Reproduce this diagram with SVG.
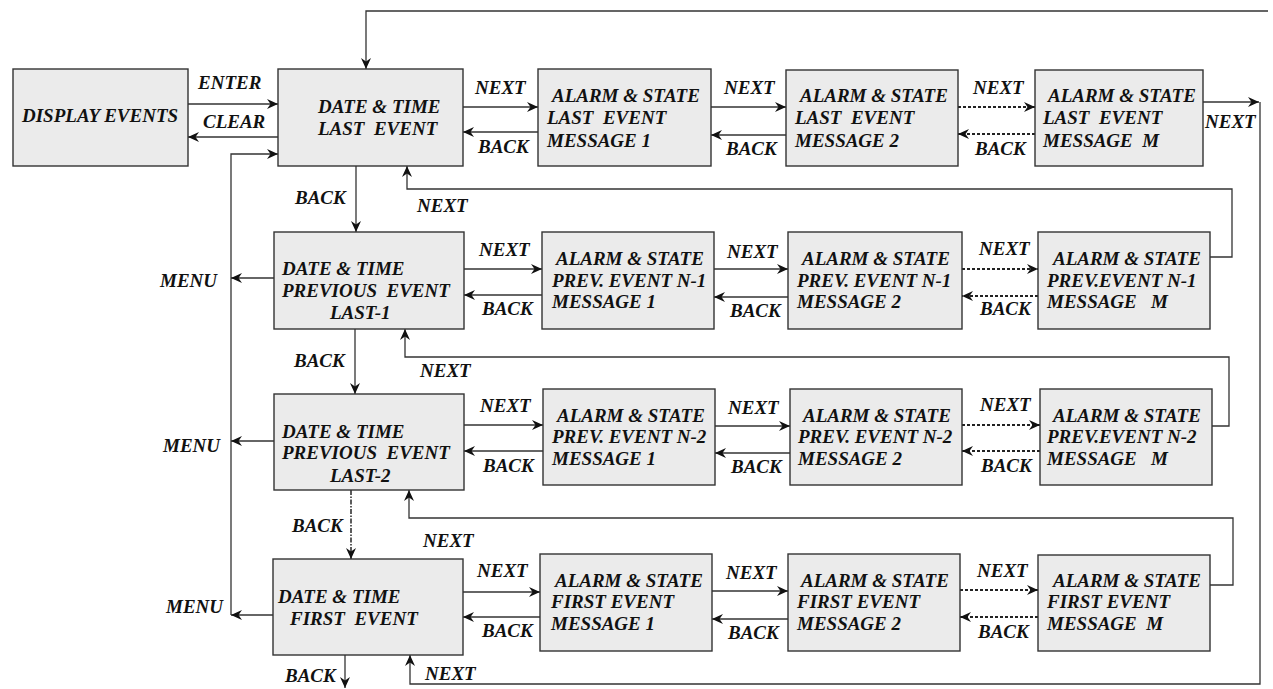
<svg xmlns="http://www.w3.org/2000/svg" width="1273" height="689" viewBox="0 0 1273 689">
<style>
.box{fill:#ebebeb;stroke:#333;stroke-width:1.4}
.t{font-family:"Liberation Serif","Times New Roman",serif;font-weight:bold;font-style:italic;font-size:19px;fill:#111;white-space:pre}
.c{fill:none;stroke:#333;stroke-width:1.3}
.d{fill:none;stroke:#222;stroke-width:2;stroke-dasharray:3 2}
.dd{fill:none;stroke:#333;stroke-width:1.6;stroke-dasharray:5 1.5 1.5 1.5}
</style>
<defs>
<marker id="a" markerUnits="userSpaceOnUse" markerWidth="12" markerHeight="12" viewBox="0 0 12 12" refX="11" refY="6" orient="auto">
<path d="M0,1 L11,6 L0,11 L3.5,6 z" fill="#111"/>
</marker>
</defs>
<rect width="1273" height="689" fill="#fff"/>

<g id="connectors">
<path class="c" d="M1268,11 L366,11 L366,69" marker-end="url(#a)"/>
<path class="c" d="M188,104 L278,104" marker-end="url(#a)"/>
<path class="c" d="M278,137 L188,137" marker-end="url(#a)"/>
<path class="c" d="M231,615 L231,154 L278,154" marker-end="url(#a)"/>
<path class="c" d="M274,278 L231,278" marker-end="url(#a)"/>
<path class="c" d="M274,441 L231,441" marker-end="url(#a)"/>
<path class="c" d="M273,615 L231,615" marker-end="url(#a)"/>
<!-- row 1 -->
<path class="c" d="M463,107 L538,107" marker-end="url(#a)"/>
<path class="c" d="M538,132 L463,132" marker-end="url(#a)"/>
<path class="c" d="M711,107 L786,107" marker-end="url(#a)"/>
<path class="c" d="M786,135 L711,135" marker-end="url(#a)"/>
<path class="d" d="M958,107 L1035,107" marker-end="url(#a)"/>
<path class="d" d="M1035,134 L958,134" marker-end="url(#a)"/>
<path class="c" d="M1203,102 L1259,102" marker-end="url(#a)"/>
<path class="c" d="M1260,102 L1260,684 L410,684 L410,655" marker-end="url(#a)"/>
<path class="c" d="M356,166 L356,232" marker-end="url(#a)"/>
<path class="c" d="M1210,257 L1232,257 L1232,189 L407,189 L407,166" marker-end="url(#a)"/>
<!-- row 2 -->
<path class="c" d="M464,269 L542,269" marker-end="url(#a)"/>
<path class="c" d="M542,295 L464,295" marker-end="url(#a)"/>
<path class="c" d="M714,269 L788,269" marker-end="url(#a)"/>
<path class="c" d="M788,297 L714,297" marker-end="url(#a)"/>
<path class="d" d="M962,269 L1038,269" marker-end="url(#a)"/>
<path class="d" d="M1038,296 L962,296" marker-end="url(#a)"/>
<path class="c" d="M355,329 L355,394" marker-end="url(#a)"/>
<path class="c" d="M1212,426 L1229,426 L1229,357 L405,357 L405,329" marker-end="url(#a)"/>
<!-- row 3 -->
<path class="c" d="M464,425 L543,425" marker-end="url(#a)"/>
<path class="c" d="M543,451 L464,451" marker-end="url(#a)"/>
<path class="c" d="M715,426 L790,426" marker-end="url(#a)"/>
<path class="c" d="M790,453 L715,453" marker-end="url(#a)"/>
<path class="d" d="M962,425 L1040,425" marker-end="url(#a)"/>
<path class="d" d="M1040,451 L962,451" marker-end="url(#a)"/>
<path class="dd" d="M351,490 L351,559" marker-end="url(#a)"/>
<path class="c" d="M1210,585 L1233,585 L1233,518 L409,518 L409,490" marker-end="url(#a)"/>
<!-- row 4 -->
<path class="c" d="M463,592 L540,592" marker-end="url(#a)"/>
<path class="c" d="M540,617 L463,617" marker-end="url(#a)"/>
<path class="c" d="M712,591 L788,591" marker-end="url(#a)"/>
<path class="c" d="M788,619 L712,619" marker-end="url(#a)"/>
<path class="d" d="M960,590 L1038,590" marker-end="url(#a)"/>
<path class="d" d="M1038,617 L960,617" marker-end="url(#a)"/>
<path class="c" d="M345,655 L345,688" marker-end="url(#a)"/>
</g>

<g id="labels" class="t">
<text class="t" x="198" y="89">ENTER</text>
<text class="t" x="203" y="128">CLEAR</text>
<text class="t" x="475" y="94">NEXT</text>
<text class="t" x="478" y="153">BACK</text>
<text class="t" x="724" y="94">NEXT</text>
<text class="t" x="726" y="155">BACK</text>
<text class="t" x="973" y="94">NEXT</text>
<text class="t" x="975" y="155">BACK</text>
<text class="t" x="1205" y="128">NEXT</text>
<text class="t" x="295" y="204">BACK</text>
<text class="t" x="417" y="212">NEXT</text>
<text class="t" x="160" y="287">MENU</text>
<text class="t" x="479" y="256">NEXT</text>
<text class="t" x="482" y="315">BACK</text>
<text class="t" x="727" y="258">NEXT</text>
<text class="t" x="730" y="317">BACK</text>
<text class="t" x="979" y="255">NEXT</text>
<text class="t" x="980" y="315">BACK</text>
<text class="t" x="294" y="367">BACK</text>
<text class="t" x="420" y="377">NEXT</text>
<text class="t" x="163" y="452">MENU</text>
<text class="t" x="480" y="412">NEXT</text>
<text class="t" x="483" y="472">BACK</text>
<text class="t" x="728" y="414">NEXT</text>
<text class="t" x="731" y="473">BACK</text>
<text class="t" x="980" y="411">NEXT</text>
<text class="t" x="981" y="472">BACK</text>
<text class="t" x="292" y="532">BACK</text>
<text class="t" x="423" y="547">NEXT</text>
<text class="t" x="166" y="613">MENU</text>
<text class="t" x="477" y="577">NEXT</text>
<text class="t" x="482" y="637">BACK</text>
<text class="t" x="726" y="579">NEXT</text>
<text class="t" x="728" y="639">BACK</text>
<text class="t" x="977" y="577">NEXT</text>
<text class="t" x="978" y="638">BACK</text>
<text class="t" x="285" y="682">BACK</text>
<text class="t" x="425" y="680">NEXT</text>
</g>

<g id="display-events">
<rect class="box" x="13" y="69" width="175" height="97"/>
<text class="t" x="22" y="122">DISPLAY EVENTS</text>
</g>

<g id="dt-last">
<rect class="box" x="278" y="69" width="185" height="97"/>
<text class="t" x="318" y="113">DATE &amp; TIME</text>
<text class="t" x="318" y="135" xml:space="preserve">LAST  EVENT</text>
</g>
<g id="last-m1">
<rect class="box" x="538" y="69" width="173" height="97"/>
<text class="t" x="552" y="102">ALARM &amp; STATE</text>
<text class="t" x="547" y="124" xml:space="preserve">LAST  EVENT</text>
<text class="t" x="547" y="147">MESSAGE 1</text>
</g>
<g id="last-m2">
<rect class="box" x="786" y="70" width="172" height="96"/>
<text class="t" x="800" y="102">ALARM &amp; STATE</text>
<text class="t" x="795" y="124" xml:space="preserve">LAST  EVENT</text>
<text class="t" x="795" y="147">MESSAGE 2</text>
</g>
<g id="last-mm">
<rect class="box" x="1035" y="70" width="168" height="96"/>
<text class="t" x="1048" y="102">ALARM &amp; STATE</text>
<text class="t" x="1043" y="124" xml:space="preserve">LAST  EVENT</text>
<text class="t" x="1043" y="147" xml:space="preserve">MESSAGE  M</text>
</g>

<g id="dt-prev1">
<rect class="box" x="274" y="232" width="190" height="97"/>
<text class="t" x="282" y="275">DATE &amp; TIME</text>
<text class="t" x="282" y="297" xml:space="preserve">PREVIOUS  EVENT</text>
<text class="t" x="330" y="319">LAST-1</text>
</g>
<g id="prev1-m1">
<rect class="box" x="542" y="232" width="172" height="97"/>
<text class="t" x="556" y="265">ALARM &amp; STATE</text>
<text class="t" x="552" y="287">PREV. EVENT N-1</text>
<text class="t" x="552" y="308">MESSAGE 1</text>
</g>
<g id="prev1-m2">
<rect class="box" x="788" y="232" width="174" height="97"/>
<text class="t" x="802" y="265">ALARM &amp; STATE</text>
<text class="t" x="797" y="287">PREV. EVENT N-1</text>
<text class="t" x="797" y="308">MESSAGE 2</text>
</g>
<g id="prev1-mm">
<rect class="box" x="1038" y="232" width="172" height="97"/>
<text class="t" x="1053" y="265">ALARM &amp; STATE</text>
<text class="t" x="1047" y="287">PREV.EVENT N-1</text>
<text class="t" x="1047" y="308" xml:space="preserve">MESSAGE   M</text>
</g>

<g id="dt-prev2">
<rect class="box" x="274" y="394" width="190" height="96"/>
<text class="t" x="282" y="438">DATE &amp; TIME</text>
<text class="t" x="282" y="459" xml:space="preserve">PREVIOUS  EVENT</text>
<text class="t" x="330" y="482">LAST-2</text>
</g>
<g id="prev2-m1">
<rect class="box" x="543" y="389" width="172" height="96"/>
<text class="t" x="557" y="422">ALARM &amp; STATE</text>
<text class="t" x="552" y="443">PREV. EVENT N-2</text>
<text class="t" x="552" y="465">MESSAGE 1</text>
</g>
<g id="prev2-m2">
<rect class="box" x="790" y="389" width="172" height="96"/>
<text class="t" x="803" y="422">ALARM &amp; STATE</text>
<text class="t" x="798" y="443">PREV. EVENT N-2</text>
<text class="t" x="798" y="465">MESSAGE 2</text>
</g>
<g id="prev2-mm">
<rect class="box" x="1040" y="389" width="172" height="96"/>
<text class="t" x="1053" y="422">ALARM &amp; STATE</text>
<text class="t" x="1047" y="443">PREV.EVENT N-2</text>
<text class="t" x="1047" y="465" xml:space="preserve">MESSAGE   M</text>
</g>

<g id="dt-first">
<rect class="box" x="273" y="559" width="190" height="96"/>
<text class="t" x="278" y="603">DATE &amp; TIME</text>
<text class="t" x="290" y="625" xml:space="preserve">FIRST  EVENT</text>
</g>
<g id="first-m1">
<rect class="box" x="540" y="554" width="172" height="97"/>
<text class="t" x="555" y="587">ALARM &amp; STATE</text>
<text class="t" x="551" y="608">FIRST EVENT</text>
<text class="t" x="551" y="630">MESSAGE 1</text>
</g>
<g id="first-m2">
<rect class="box" x="788" y="554" width="172" height="97"/>
<text class="t" x="801" y="587">ALARM &amp; STATE</text>
<text class="t" x="797" y="608">FIRST EVENT</text>
<text class="t" x="797" y="630">MESSAGE 2</text>
</g>
<g id="first-mm">
<rect class="box" x="1038" y="555" width="172" height="96"/>
<text class="t" x="1053" y="587">ALARM &amp; STATE</text>
<text class="t" x="1047" y="608">FIRST EVENT</text>
<text class="t" x="1047" y="630" xml:space="preserve">MESSAGE  M</text>
</g>
</svg>
